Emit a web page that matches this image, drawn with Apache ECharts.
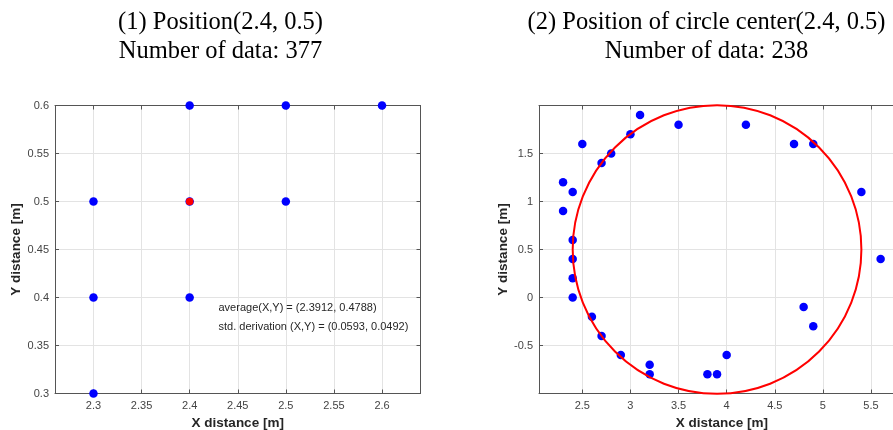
<!DOCTYPE html>
<html>
<head>
<meta charset="utf-8">
<script src="https://cdn.jsdelivr.net/npm/echarts@6/dist/echarts.min.js"></script>
<style>
  html, body { margin: 0; padding: 0; background: #fff; }
  #chart { width: 893px; height: 430px; }
</style>
</head>
<body>
<div id="chart"></div>
<script>
// Panel 1: measured positions around (2.4, 0.5)
const posX = [2.3, 2.3, 2.3, 2.4, 2.4, 2.4, 2.5, 2.5, 2.6];
const posY = [0.5, 0.4, 0.3, 0.6, 0.5, 0.4, 0.6, 0.5, 0.6];
const refPoint = [2.4, 0.5];
const statsText = ['average(X,Y) = (2.3912, 0.4788)', 'std. derivation (X,Y) = (0.0593, 0.0492)'];

// Panel 2: estimated circle centres
const ctrX = [3.1, 3.5, 4.2, 3.0, 2.5, 4.7, 4.9, 2.8, 2.7, 2.3, 2.4, 5.4, 2.3, 2.4, 2.4, 5.6, 2.4, 2.4,
              4.8, 2.6, 4.9, 2.7, 2.9, 4.0, 3.2, 3.2, 3.8, 3.9];
const ctrY = [1.9, 1.8, 1.8, 1.7, 1.6, 1.6, 1.6, 1.5, 1.4, 1.2, 1.1, 1.1, 0.9, 0.6, 0.4, 0.4, 0.2, 0.0,
              -0.1, -0.2, -0.3, -0.4, -0.6, -0.6, -0.7, -0.8, -0.8, -0.8];
const circle = { cx: 3.9, cy: 0.5, r: 1.5 };

// Tick values
const ticksX1 = [2.3, 2.35, 2.4, 2.45, 2.5, 2.55, 2.6];
const ticksY1 = [0.3, 0.35, 0.4, 0.45, 0.5, 0.55, 0.6];
const ticksX2 = [2.5, 3, 3.5, 4, 4.5, 5, 5.5];
const ticksY2 = [-0.5, 0, 0.5, 1, 1.5];

const titles = [
  '(1) Position(2.4, 0.5)\nNumber of data: 377',
  '(2) Position of circle center(2.4, 0.5)\nNumber of data: 238'
];

const FRAME = '#555';
const GRIDC = '#e3e3e3';
const SANS = '"Liberation Sans", Arial, Helvetica, sans-serif';
const SERIF = '"Liberation Serif", "Times New Roman", serif';

function mainAxis(kind, idx, min, max, ticks, name, gap) {
  const isX = kind === 'x';
  return {
    type: 'value',
    gridIndex: idx,
    min: min,
    max: max,
    position: isX ? 'bottom' : 'left',
    name: name,
    nameLocation: 'middle',
    nameGap: gap,
    nameTextStyle: { fontFamily: SANS, fontSize: 13.5, fontWeight: 'bold', color: '#262626' },
    axisLine: { show: true, onZero: false, lineStyle: { color: FRAME, width: 1 } },
    axisTick: { show: true, inside: true, length: 4, customValues: ticks, lineStyle: { color: FRAME } },
    axisLabel: {
      show: true, customValues: ticks, margin: isX ? 7 : 6,
      fontFamily: SANS, fontSize: 11, color: '#444',
      formatter: v => String(+v.toFixed(4))
    },
    splitLine: { show: true, lineStyle: { color: GRIDC, width: 1 } }
  };
}

function mirrorAxis(kind, idx, min, max, ticks) {
  const isX = kind === 'x';
  return {
    type: 'value',
    gridIndex: idx,
    min: min,
    max: max,
    position: isX ? 'top' : 'right',
    axisLine: { show: true, onZero: false, lineStyle: { color: FRAME, width: 1 } },
    axisTick: { show: true, inside: true, length: 4, customValues: ticks, lineStyle: { color: FRAME } },
    axisLabel: { show: false },
    splitLine: { show: false }
  };
}

const chart = echarts.init(document.getElementById('chart'), null, { renderer: 'canvas' });

const option = {
  backgroundColor: '#fff',
  animation: false,
  grid: [
    { left: 55, top: 105.5, width: 365.5, height: 288, show: false,
      containLabel: false, outerBoundsMode: 'none' },
    { left: 539, top: 105.5, width: 365.7, height: 288, show: false,
      containLabel: false, outerBoundsMode: 'none' }
  ],
  xAxis: [
    mainAxis('x', 0, 2.26, 2.64, ticksX1, 'X distance [m]', 23),
    mainAxis('x', 1, 2.05, 5.85, ticksX2, 'X distance [m]', 23),
    mirrorAxis('x', 0, 2.26, 2.64, ticksX1),
    mirrorAxis('x', 1, 2.05, 5.85, ticksX2)
  ],
  yAxis: [
    mainAxis('y', 0, 0.3, 0.6, ticksY1, 'Y distance [m]', 31),
    mainAxis('y', 1, -1, 2, ticksY2, 'Y distance [m]', 29),
    mirrorAxis('y', 0, 0.3, 0.6, ticksY1),
    mirrorAxis('y', 1, -1, 2, ticksY2)
  ],
  graphic: [
    { type: 'text', x: 220.5, y: 8.5, silent: true,
      style: { text: titles[0], fontFamily: SERIF, fontSize: 24.5, lineHeight: 29, fill: '#000',
               align: 'center', verticalAlign: 'top' } },
    { type: 'text', x: 706.5, y: 8.5, silent: true,
      style: { text: titles[1], fontFamily: SERIF, fontSize: 24.5, lineHeight: 29, fill: '#000',
               align: 'center', verticalAlign: 'top' } },
    { type: 'text', x: 218.5, y: 298, silent: true, z: 10,
      style: { text: statsText.join('\n'), fontFamily: SANS, fontSize: 11, lineHeight: 19, fill: '#262626',
               align: 'left', verticalAlign: 'top' } }
  ],
  series: [
    {
      type: 'scatter', xAxisIndex: 0, yAxisIndex: 0,
      symbol: 'circle', symbolSize: 8.5,
      itemStyle: { color: '#0000ff', opacity: 1 },
      data: posX.map((x, i) => [x, posY[i]]),
      z: 3
    },
    {
      type: 'scatter', xAxisIndex: 0, yAxisIndex: 0,
      symbol: 'circle', symbolSize: 7.5,
      itemStyle: { color: '#ff0000', opacity: 1 },
      data: [refPoint],
      z: 4
    },
    {
      type: 'scatter', xAxisIndex: 1, yAxisIndex: 1,
      symbol: 'circle', symbolSize: 8.5,
      itemStyle: { color: '#0000ff', opacity: 1 },
      data: ctrX.map((x, i) => [x, ctrY[i]]),
      z: 3
    },
    {
      type: 'custom', xAxisIndex: 1, yAxisIndex: 1,
      encode: { x: 0, y: 1 },
      data: [[circle.cx, circle.cy, circle.r]],
      z: 5,
      renderItem: function (params, api) {
        const c = api.coord([api.value(0), api.value(1)]);
        const r = api.size([api.value(2), 0])[0];
        return {
          type: 'circle',
          shape: { cx: c[0], cy: c[1], r: r },
          style: { fill: 'none', stroke: '#ff0000', lineWidth: 2 }
        };
      }
    }
  ]
};

chart.setOption(option);
</script>
</body>
</html>
